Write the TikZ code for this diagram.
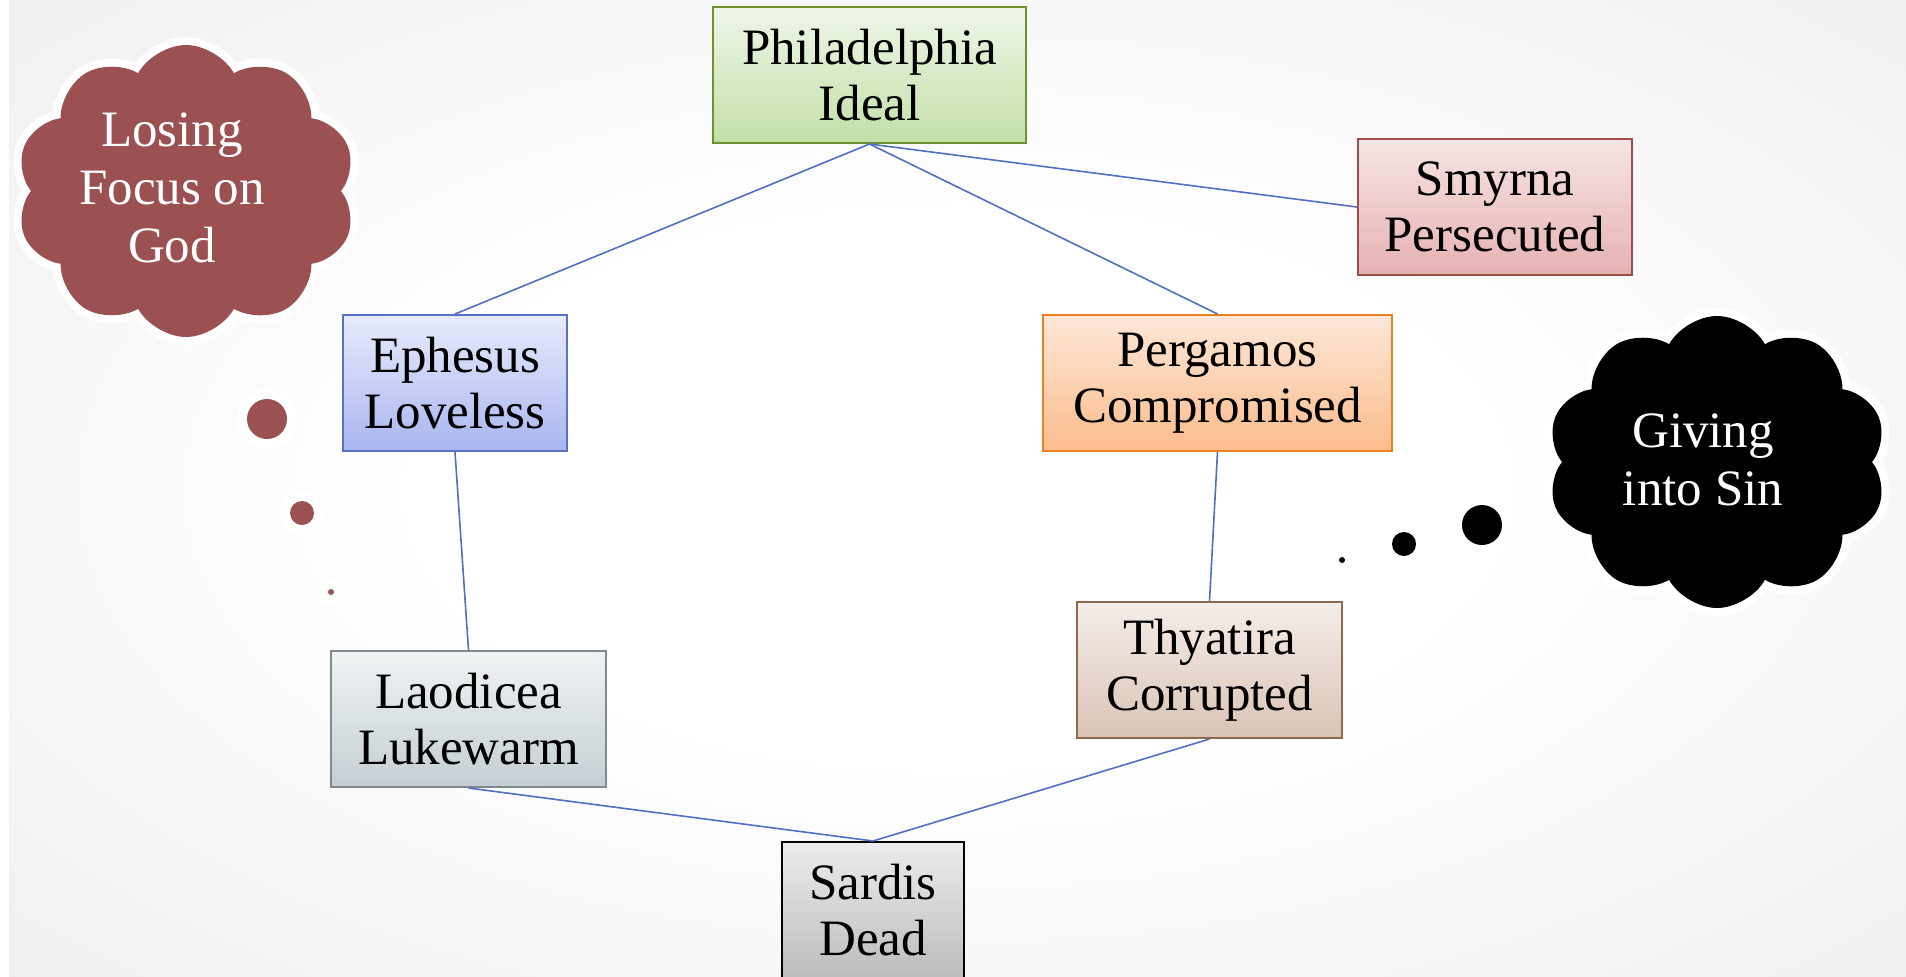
\documentclass[tikz,border=0pt]{standalone}
\usepackage{fontspec}
\setmainfont{Liberation Serif}
\usetikzlibrary{shapes.symbols}
\definecolor{conn}{RGB}{80,112,192}
\definecolor{maroon}{RGB}{155,81,81}
\definecolor{gfill1}{RGB}{239,246,232}\definecolor{gfill2}{RGB}{194,223,168}\definecolor{gdraw}{RGB}{112,146,46}
\definecolor{rfill1}{RGB}{246,228,228}\definecolor{rfill2}{RGB}{230,178,178}\definecolor{rdraw}{RGB}{160,76,74}
\definecolor{bfill1}{RGB}{232,235,252}\definecolor{bfill2}{RGB}{168,182,240}\definecolor{bdraw}{RGB}{90,114,196}
\definecolor{ofill1}{RGB}{253,231,216}\definecolor{ofill2}{RGB}{251,188,140}\definecolor{odraw}{RGB}{232,130,30}
\definecolor{sfill1}{RGB}{240,243,244}\definecolor{sfill2}{RGB}{196,206,210}\definecolor{sdraw}{RGB}{128,138,142}
\definecolor{tfill1}{RGB}{245,238,234}\definecolor{tfill2}{RGB}{218,194,180}\definecolor{tdraw}{RGB}{140,106,74}
\definecolor{kfill1}{RGB}{236,236,236}\definecolor{kfill2}{RGB}{188,188,188}
\pgfdeclareradialshading{bgshade}{\pgfpoint{0bp}{0bp}}{color(0bp)=(white); color(14bp)=(white); color(32bp)=(black!5); color(50bp)=(black!11)}
\tikzset{
  box/.style={rectangle, line width=1pt, inner sep=0pt, align=center,
    font=\fontsize{25.5}{28}\selectfont},
  link/.style={draw=conn, line width=0.8pt},
  cloudshape/.style={cloud, cloud puffs=10, cloud puff arc=122, aspect=1.15,
    inner sep=0pt, minimum width=170pt, minimum height=146pt,
    preaction={draw=white, line width=8pt}},
  cloudtext/.style={text=white, align=center, font=\fontsize{25.5}{29}\selectfont},
  ringdot/.style={circle, inner sep=0pt, fill=maroon, preaction={draw=white, line width=10pt}},
  blackdot/.style={circle, inner sep=0pt, fill=black}
}
\begin{document}
\begin{tikzpicture}[x=0.5pt, y=-0.5pt]
\useasboundingbox (0,0) rectangle (1906,976);
\fill[white] (0,0) rectangle (1906,976);
\shade[shading=bgshade] (9,0) rectangle (1906,976);

% nodes
\node[box, draw=gdraw, top color=gfill1, bottom color=gfill2, minimum width=156.5pt, minimum height=68pt] (phil) at (869.5,75) {Philadelphia\\Ideal};
\node[box, draw=rdraw, top color=rfill1, bottom color=rfill2, minimum width=137pt, minimum height=68pt] (smy) at (1495,207) {Smyrna\\Persecuted};
\node[box, draw=bdraw, top color=bfill1, bottom color=bfill2, minimum width=112pt, minimum height=68pt] (eph) at (455,383) {Ephesus\\Loveless};
\node[box, draw=odraw, top color=ofill1, bottom color=ofill2, minimum width=174.5pt, minimum height=68pt] (per) at (1217.5,383) {Pergamos\\Compromised};
\node[box, draw=sdraw, top color=sfill1, bottom color=sfill2, minimum width=137.5pt, minimum height=68pt] (lao) at (468.5,719) {Laodicea\\Lukewarm};
\node[box, draw=tdraw, top color=tfill1, bottom color=tfill2, minimum width=132.5pt, minimum height=68pt] (thy) at (1209.5,670) {Thyatira\\Corrupted};
\node[box, draw=black, top color=kfill1, bottom color=kfill2, minimum width=91pt, minimum height=68pt] (sar) at (873,910) {Sardis\\Dead};

% connectors
\draw[link] (phil.south) -- (eph.north);
\draw[link] (phil.south) -- (per.north);
\draw[link] (phil.south) -- (smy.west);
\draw[link] (eph.south) -- (lao.north);
\draw[link] (per.south) -- (thy.north);
\draw[link] (lao.south) -- (sar.north);
\draw[link] (thy.south) -- (sar.north);

% thought clouds
\node[cloudshape, fill=maroon] (cl) at (186,191) {};
\node[cloudtext] (clt) at (172,188) {Losing\\Focus on\\God};
\node[ringdot, minimum size=20pt] (ld1) at (267,419) {};
\node[ringdot, minimum size=12pt] (ld2) at (302,513) {};
\node[ringdot, minimum size=3pt] (ld3) at (331,592) {};

\node[cloudshape, fill=black] (cr) at (1717,462) {};
\node[cloudtext] (crt) at (1703,460) {Giving\\into Sin};
\node[blackdot, minimum size=20pt] (rd1) at (1482,525) {};
\node[blackdot, minimum size=12pt] (rd2) at (1404,544) {};
\node[blackdot, minimum size=3pt] (rd3) at (1342,560) {};
\end{tikzpicture}
\end{document}
